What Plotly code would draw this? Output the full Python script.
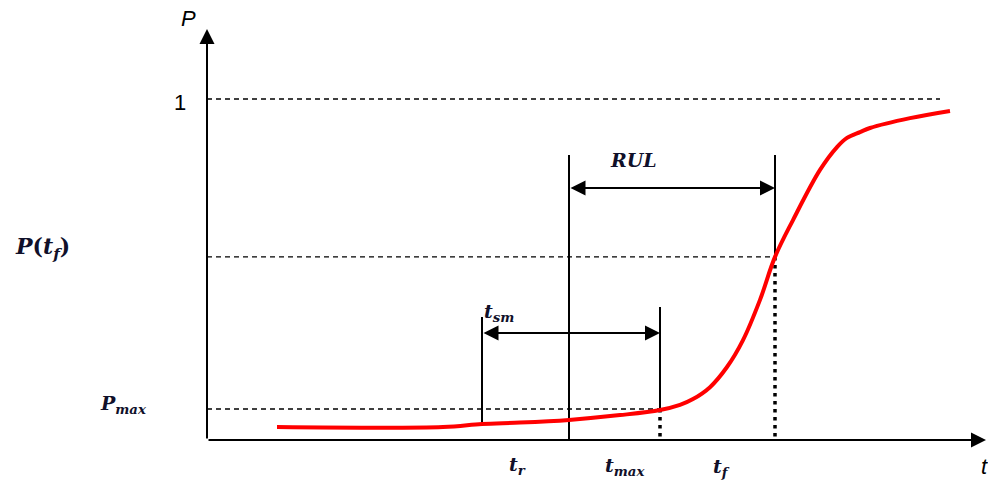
import plotly.graph_objects as go

# Failure probability curve P(t) (time in arbitrary units, probability 0..1)
curve_t = [0.70, 2.36, 2.75, 3.13, 3.62, 4.13, 4.53, 4.73, 4.86, 5.03, 5.20,
           5.36, 5.53, 5.68, 5.86, 6.13, 6.30, 6.40, 6.53, 6.63, 7.03, 7.43]
curve_p = [0.038, 0.038, 0.047, 0.051, 0.059, 0.073, 0.088, 0.103, 0.120, 0.155,
           0.214, 0.293, 0.411, 0.537, 0.645, 0.792, 0.859, 0.886, 0.903, 0.915,
           0.944, 0.965]

# Characteristic instants
t_r = 2.75      # start of the smoothing window
t_now = 3.62    # current time
t_max = 4.53    # end of the smoothing window
t_f = 5.68      # failure time
t_end = 7.79    # end of time axis
t_ref_end = 7.33  # end of the P = 1 reference line

# Characteristic probabilities
p_one = 1.0
p_tf = 0.537
p_max = 0.091
p_top = 1.205   # top of probability axis
p_rul = 0.739   # height of the RUL arrow
p_tsm = 0.314   # height of the t_sm arrow
p_bracket_top = 0.836
p_tsm_left_top = 0.361
p_tsm_right_top = 0.390

fig = go.Figure()

def line(xs, ys, color="black", width=2, dash="solid"):
    fig.add_trace(go.Scatter(x=xs, y=ys, mode="lines", hoverinfo="skip",
                             line=dict(color=color, width=width, dash=dash)))

# dashed reference levels
line([0, t_ref_end], [p_one, p_one], color="black", width=1.3, dash="5px,4px")
line([0, t_f], [p_tf, p_tf], color="black", width=1.3, dash="5px,4px")
line([0, t_max], [p_max, p_max], color="black", width=1.3, dash="5px,4px")

# vertical markers
line([t_r, t_r], [p_tsm_left_top, 0.047])
line([t_now, t_now], [p_bracket_top, 0])
line([t_max, t_max], [p_tsm_right_top, p_max])
line([t_f, t_f], [p_bracket_top, p_tf])

# dotted drops to the time axis
line([t_max, t_max], [p_max, 0.0], width=3.5, dash="3.5px,4.5px")
line([t_f, t_f], [p_tf, 0.0], width=3.5, dash="3.5px,4.5px")

# probability curve
fig.add_trace(go.Scatter(x=curve_t, y=curve_p, mode="lines", hoverinfo="skip",
                         line=dict(color="#ff0000", width=4, shape="spline", smoothing=1.0)))

def arrow(x0, y0, x1, y1, both=False):
    fig.add_annotation(x=x1, y=y1, ax=x0, ay=y0, xref="x", yref="y",
                       axref="x", ayref="y", text="", showarrow=True,
                       arrowhead=2, arrowsize=1.5, arrowwidth=2,
                       arrowcolor="black",
                       arrowside="end+start" if both else "end",
                       startarrowhead=2, startarrowsize=1.5)

# axes with arrow tips
arrow(0, 0, 0, p_top)
arrow(0, 0, t_end, 0)
# interval arrows
arrow(t_now, p_rul, t_f, p_rul, both=True)
arrow(t_r, p_tsm, t_max, p_tsm, both=True)

sans = "Liberation Sans, Arial, sans-serif"
serif = "DejaVu Serif, Liberation Serif, serif"
ink = "#10102a"

def label(x, y, text, size=22, family=serif, color=ink):
    fig.add_annotation(x=x, y=y, xref="x", yref="y", text=text, showarrow=False,
                       font=dict(family=family, size=size, color=color))

label(-0.19, 1.235, "<i>P</i>", size=22, family=sans, color="black")
label(-0.27, 0.991, "1", size=22, family=sans, color="black")
label(7.77, -0.079, "<i>t</i>", size=22, family=sans, color="black")
label(-1.65, 0.563, "<b><i>P</i>(<i>t<sub>f</sub></i>)</b>", size=22)
label(-0.84, 0.103, "<b><i>P<sub>max</sub></i></b>", size=19)
label(2.92, 0.375, "<b><i>t<sub>sm</sub></i></b>", size=19)
label(4.26, 0.821, "<b><i>RUL</i></b>", size=19)
label(3.10, -0.076, "<b><i>t<sub>r</sub></i></b>", size=19)
label(4.18, -0.079, "<b><i>t<sub>max</sub></i></b>", size=19)
label(5.14, -0.082, "<b><i>t<sub>f</sub></i></b>", size=19)

fig.update_layout(
    width=988, height=490,
    margin=dict(l=0, r=0, t=0, b=0),
    paper_bgcolor="white", plot_bgcolor="white",
    showlegend=False,
    xaxis=dict(range=[-2.07, 7.81], visible=False, fixedrange=True),
    yaxis=dict(range=[-0.1466, 1.2903], visible=False, fixedrange=True),
)

fig.write_html("out.html", config={"displayModeBar": False})
